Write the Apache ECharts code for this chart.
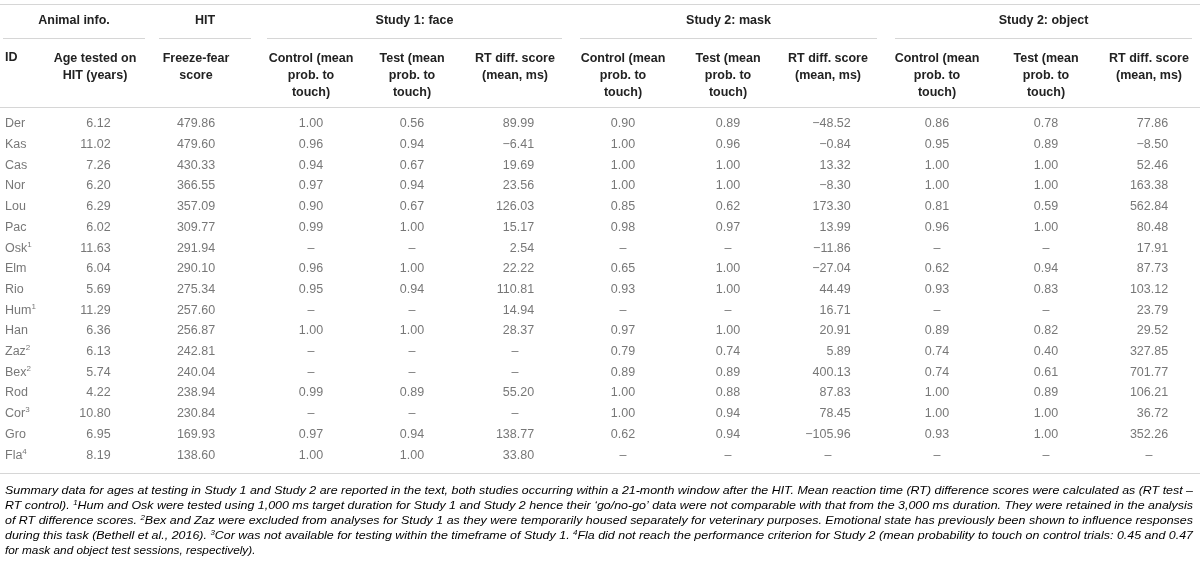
<!DOCTYPE html>
<html>
<head>
<meta charset="utf-8">
<script src="https://cdn.jsdelivr.net/npm/echarts@6/dist/echarts.min.js"></script>
<style>
html,body{margin:0;padding:0;background:#fff}
#main{width:1200px;height:561px}
</style>
</head>
<body>
<div id="main"></div>
<script>
// table values, one array per column
var ids = ['Der','Kas','Cas','Nor','Lou','Pac','Osk','Elm','Rio','Hum','Han','Zaz','Bex','Rod','Cor','Gro','Fla'];
var idNotes = ['','','','','','','1','','','1','','2','2','','3','','4'];
var ageYears = [6.12,11.02,7.26,6.20,6.29,6.02,11.63,6.04,5.69,11.29,6.36,6.13,5.74,4.22,10.80,6.95,8.19];
var freezeFear = [479.86,479.60,430.33,366.55,357.09,309.77,291.94,290.10,275.34,257.60,256.87,242.81,240.04,238.94,230.84,169.93,138.60];
var faceControl = [1.00,0.96,0.94,0.97,0.90,0.99,null,0.96,0.95,null,1.00,null,null,0.99,null,0.97,1.00];
var faceTest = [0.56,0.94,0.67,0.94,0.67,1.00,null,1.00,0.94,null,1.00,null,null,0.89,null,0.94,1.00];
var faceRT = [89.99,-6.41,19.69,23.56,126.03,15.17,2.54,22.22,110.81,14.94,28.37,null,null,55.20,null,138.77,33.80];
var maskControl = [0.90,1.00,1.00,1.00,0.85,0.98,null,0.65,0.93,null,0.97,0.79,0.89,1.00,1.00,0.62,null];
var maskTest = [0.89,0.96,1.00,1.00,0.62,0.97,null,1.00,1.00,null,1.00,0.74,0.89,0.88,0.94,0.94,null];
var maskRT = [-48.52,-0.84,13.32,-8.30,173.30,13.99,-11.86,-27.04,44.49,16.71,20.91,5.89,400.13,87.83,78.45,-105.96,null];
var objectControl = [0.86,0.95,1.00,1.00,0.81,0.96,null,0.62,0.93,null,0.89,0.74,0.74,1.00,1.00,0.93,null];
var objectTest = [0.78,0.89,1.00,1.00,0.59,1.00,null,0.94,0.83,null,0.82,0.40,0.61,0.89,1.00,1.00,null];
var objectRT = [77.86,-8.50,52.46,163.38,562.84,80.48,17.91,87.73,103.12,23.79,29.52,327.85,701.77,106.21,36.72,352.26,null];

var groupHeaders = ['Animal info.', 'HIT', 'Study 1: face', 'Study 2: mask', 'Study 2: object'];
var colHeaders = ['Age tested on\nHIT (years)', 'Freeze-fear\nscore',
  'Control (mean\nprob. to\ntouch)', 'Test (mean\nprob. to\ntouch)', 'RT diff. score\n(mean, ms)',
  'Control (mean\nprob. to\ntouch)', 'Test (mean\nprob. to\ntouch)', 'RT diff. score\n(mean, ms)',
  'Control (mean\nprob. to\ntouch)', 'Test (mean\nprob. to\ntouch)', 'RT diff. score\n(mean, ms)'];

var footLines = [
  [['t','Summary data for ages at testing in Study 1 and Study 2 are reported in the text, both studies occurring within a 21-month window after the HIT. Mean reaction time (RT) difference scores were calculated as (RT test \u2013']],
  [['t','RT control). '],['s','1'],['t','Hum and Osk were tested using 1,000 ms target duration for Study 1 and Study 2 hence their \u2018go/no-go\u2019 data were not comparable with that from the 3,000 ms duration. They were retained in the analysis']],
  [['t','of RT difference scores. '],['s','2'],['t','Bex and Zaz were excluded from analyses for Study 1 as they were temporarily housed separately for veterinary purposes. Emotional state has previously been shown to influence responses']],
  [['t','during this task ('],['c','Bethell et al., 2016'],['t','). '],['s','3'],['t','Cor was not available for testing within the timeframe of Study 1. '],['s','4'],['t','Fla did not reach the performance criterion for Study 2 (mean probability to touch on control trials: 0.45 and 0.47']],
  [['t','for mask and object test sessions, respectively).']]
];

// layout
var FONT = '"Liberation Sans", Arial, sans-serif';
var dataSize = 12.5, headSize = 12.5, footSize = 11.8;
var dataColor = '#555', headColor = '#222', ruleColor = '#d6d6d6';
var columns = [
  {values: ageYears, cx: 95},
  {values: freezeFear, cx: 196},
  {values: faceControl, cx: 311},
  {values: faceTest, cx: 412},
  {values: faceRT, cx: 515},
  {values: maskControl, cx: 623},
  {values: maskTest, cx: 728},
  {values: maskRT, cx: 828},
  {values: objectControl, cx: 937},
  {values: objectTest, cx: 1046},
  {values: objectRT, cx: 1149}
];
var groupSpans = [[3,145],[159,251],[267,562],[580,877],[895,1192]];
var rowTop = 113.6, rowBottom = 465.4;

var ctx = document.createElement('canvas').getContext('2d');
function textW(s, font) { ctx.font = font; return ctx.measureText(s).width; }
function fmt(v) { return v == null ? '\u2013' : v.toFixed(2).replace('-', '\u2212'); }

var series = [];
series.push({
  type: 'scatter', symbolSize: 0.1, itemStyle: {color: 'transparent'}, silent: true,
  data: ids.map(function (d, i) { return [5, i, d, idNotes[i]]; }),
  label: {
    show: true, position: 'inside', align: 'left',
    formatter: function (p) { return '{n|' + p.value[2] + '}' + (p.value[3] ? '{s|' + p.value[3] + '}' : ''); },
    rich: {
      n: {fontFamily: FONT, fontSize: dataSize, color: dataColor, lineHeight: 15},
      s: {fontFamily: FONT, fontSize: 8, color: dataColor, verticalAlign: 'top', lineHeight: 8}
    }
  }
});
columns.forEach(function (c) {
  var maxW = 0;
  c.values.forEach(function (v) { if (v != null) maxW = Math.max(maxW, textW(fmt(v), dataSize + 'px ' + FONT)); });
  series.push({
    type: 'scatter', symbolSize: 0.1, itemStyle: {color: 'transparent'}, silent: true,
    data: c.values.map(function (v, i) {
      return {
        value: [c.cx, i, v],
        label: v == null ? {align: 'center', offset: [0, 0]} : {align: 'right', offset: [maxW / 2, 0]}
      };
    }),
    label: {
      show: true, position: 'inside', fontFamily: FONT, fontSize: dataSize, color: dataColor,
      formatter: function (p) { return fmt(p.value[2]); }
    }
  });
});

var graphics = [];
function hline(x1, x2, y) {
  graphics.push({type: 'line', silent: true, shape: {x1: x1, y1: y, x2: x2, y2: y}, style: {stroke: ruleColor, lineWidth: 1}});
}
hline(0, 1200, 4.5);
hline(0, 1200, 107.5);
hline(0, 1200, 473.5);
groupSpans.forEach(function (s, i) {
  hline(s[0], s[1], 38.5);
  graphics.push({type: 'text', silent: true, style: {
    text: groupHeaders[i], x: (s[0] + s[1]) / 2, y: 20.5, align: 'center', verticalAlign: 'middle',
    fontFamily: FONT, fontSize: headSize, fontWeight: 'bold', fill: headColor}});
});
graphics.push({type: 'text', silent: true, style: {
  text: 'ID', x: 5, y: 58, align: 'left', verticalAlign: 'middle',
  fontFamily: FONT, fontSize: headSize, fontWeight: 'bold', fill: headColor}});
columns.forEach(function (c, i) {
  graphics.push({type: 'text', silent: true, style: {
    text: colHeaders[i], x: c.cx, y: 49.5, align: 'center', verticalAlign: 'top', lineHeight: 17.2,
    fontFamily: FONT, fontSize: headSize, fontWeight: 'bold', fill: headColor}});
});

var footRich = {
  t: {fontFamily: FONT, fontSize: footSize, fontStyle: 'italic', color: '#333', lineHeight: 15},
  c: {fontFamily: FONT, fontSize: footSize, fontStyle: 'italic', color: '#8aa2c4', lineHeight: 15},
  s: {fontFamily: FONT, fontSize: 7.5, fontStyle: 'italic', color: '#333', verticalAlign: 'top', lineHeight: 8}
};
footLines.forEach(function (line, i) {
  var str = '', w = 0;
  line.forEach(function (seg) {
    str += '{' + seg[0] + '|' + seg[1] + '}';
    var size = seg[0] === 's' ? 7.5 : footSize;
    w += textW(seg[1], 'italic ' + size + 'px ' + FONT);
  });
  var sx = i < footLines.length - 1 ? 1188 / w : 1;
  graphics.push({type: 'text', silent: true, x: 5, y: 491 + i * 15, scaleX: sx, style: {
    text: str, x: 0, y: 0, align: 'left', verticalAlign: 'middle', rich: footRich}});
});

var chart = echarts.init(document.getElementById('main'));
chart.setOption({
  animation: false,
  grid: {left: 0, right: 0, top: rowTop, bottom: 561 - rowBottom},
  xAxis: {type: 'value', min: 0, max: 1200, show: false},
  yAxis: {type: 'category', data: ids, inverse: true, show: false},
  graphic: graphics,
  series: series
});
</script>
</body>
</html>
